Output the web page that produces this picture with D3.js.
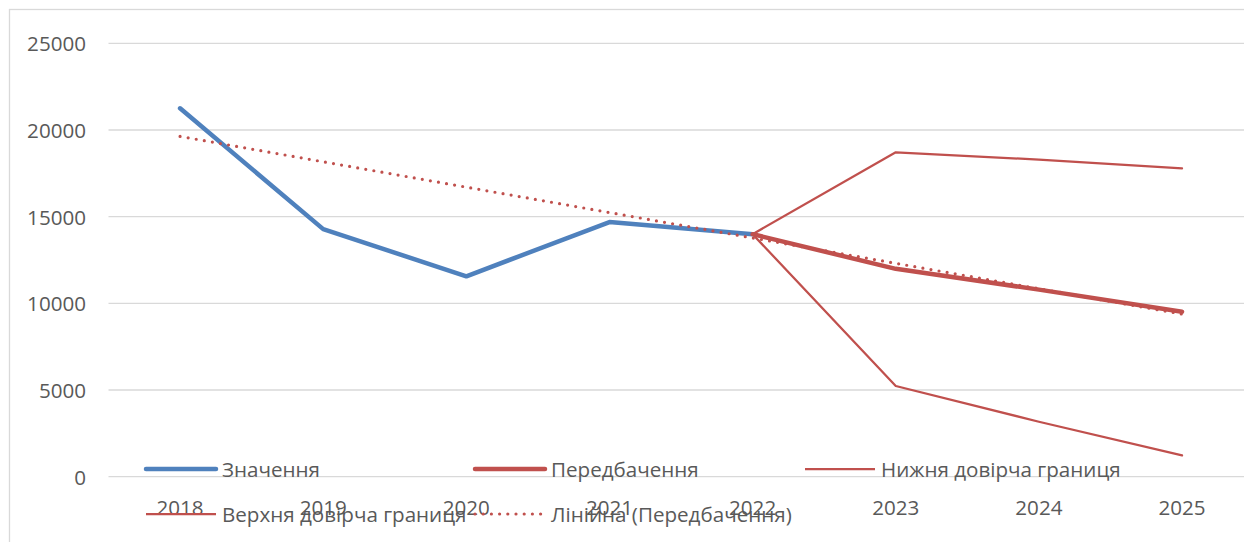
<!DOCTYPE html>
<html>
<head>
<meta charset="utf-8">
<script src="https://cdn.jsdelivr.net/npm/d3@7"></script>
<style>
  html, body { margin: 0; padding: 0; background: #fff; }
  svg { display: block; }
  text { font-family: "Open Sans", "Noto Sans", sans-serif; fill: #595959; }
</style>
</head>
<body>
<svg id="chart" width="1244" height="542"></svg>
<script>
// Categories (years)
const years = ["2018", "2019", "2020", "2021", "2022", "2023", "2024", "2025"];

// Observed values
const actualValues = [21250, 14280, 11560, 14690, 13990, null, null, null];
// Forecast and its confidence bounds
const forecastValues = [null, null, null, null, 13990, 11990, 10790, 9520];
const lowerBound = [null, null, null, null, 13990, 5230, 3170, 1230];
const upperBound = [null, null, null, null, 13990, 18710, 18290, 17780];
// Linear trend of the forecast series (first and last year)
const trendYears = ["2018", "2025"];
const trendValues = [19630, 9380];

// Value axis ticks
const yTicks = [0, 5000, 10000, 15000, 20000, 25000];

// Legend labels
const legendLabels = ["Значення", "Передбачення", "Нижня довірча границя", "Верхня довірча границя", "Лінійна (Передбачення)"];

const svg = d3.select("#chart");
const BLUE = "#4F81BD", RED = "#C0504D", GRID = "#D9D9D9";
const FONT = 20.6;

// Chart area frame
svg.append("rect")
  .attr("x", 9.5).attr("y", 9.5)
  .attr("width", 1300).attr("height", 600)
  .attr("fill", "#fff").attr("stroke", GRID).attr("stroke-width", 1.3);

const x = d3.scaleBand().domain(years).range([108.5, 1253.6]);
const y = d3.scaleLinear().domain([0, 25000]).range([476.7, 43.3]);
const cx = d => x(d) + x.bandwidth() / 2;

// Gridlines
svg.append("g").selectAll("line").data(yTicks).join("line")
  .attr("x1", 108.5).attr("x2", 1260)
  .attr("y1", d => y(d)).attr("y2", d => y(d))
  .attr("stroke", GRID).attr("stroke-width", 1.3);

// Value axis labels
svg.append("g").selectAll("text").data(yTicks).join("text")
  .attr("x", 86).attr("y", d => y(d))
  .attr("text-anchor", "end").attr("dominant-baseline", "central")
  .attr("font-size", FONT)
  .text(d => d);

// Category axis labels
svg.append("g").selectAll("text").data(years).join("text")
  .attr("x", d => cx(d)).attr("y", 515)
  .attr("text-anchor", "middle")
  .attr("font-size", FONT)
  .text(d => d);

const lineGen = d3.line()
  .defined(d => d.v !== null)
  .x(d => cx(d.c)).y(d => y(d.v));
const pts = vals => years.map((c, i) => ({ c, v: vals[i] }));

function drawSeries(vals, color, width) {
  svg.append("path")
    .datum(pts(vals))
    .attr("d", lineGen)
    .attr("fill", "none")
    .attr("stroke", color)
    .attr("stroke-width", width)
    .attr("stroke-linejoin", "round")
    .attr("stroke-linecap", "round");
}

drawSeries(actualValues, BLUE, 4.5);
drawSeries(forecastValues, RED, 4.5);
drawSeries(lowerBound, RED, 2.25);
drawSeries(upperBound, RED, 2.25);

// Trend line
svg.append("path")
  .datum(trendYears.map((c, i) => ({ c, v: trendValues[i] })))
  .attr("d", lineGen)
  .attr("fill", "none")
  .attr("stroke", RED)
  .attr("stroke-width", 3.2)
  .attr("stroke-linecap", "round")
  .attr("stroke-dasharray", "0 8.2");

// Legend
const legendItems = [
  { label: legendLabels[0], color: BLUE, width: 4.5, dash: null, x: 146, y: 469 },
  { label: legendLabels[1], color: RED, width: 4.5, dash: null, x: 475, y: 469 },
  { label: legendLabels[2], color: RED, width: 2.25, dash: null, x: 805, y: 469 },
  { label: legendLabels[3], color: RED, width: 2.25, dash: null, x: 146, y: 514 },
  { label: legendLabels[4], color: RED, width: 3.2, dash: "0 8.2", x: 475, y: 514 }
];
const lg = svg.append("g").selectAll("g").data(legendItems).join("g")
  .attr("transform", d => `translate(${d.x},${d.y})`);
lg.append("line")
  .attr("x1", 0).attr("x2", 70).attr("y1", 0).attr("y2", 0)
  .attr("stroke", d => d.color)
  .attr("stroke-width", d => d.width)
  .attr("stroke-linecap", d => d.width > 4 || d.dash ? "round" : "butt")
  .attr("stroke-dasharray", d => d.dash);
lg.append("text")
  .attr("x", 76).attr("y", 0)
  .attr("dominant-baseline", "central")
  .attr("font-size", FONT)
  .text(d => d.label);
</script>
</body>
</html>
